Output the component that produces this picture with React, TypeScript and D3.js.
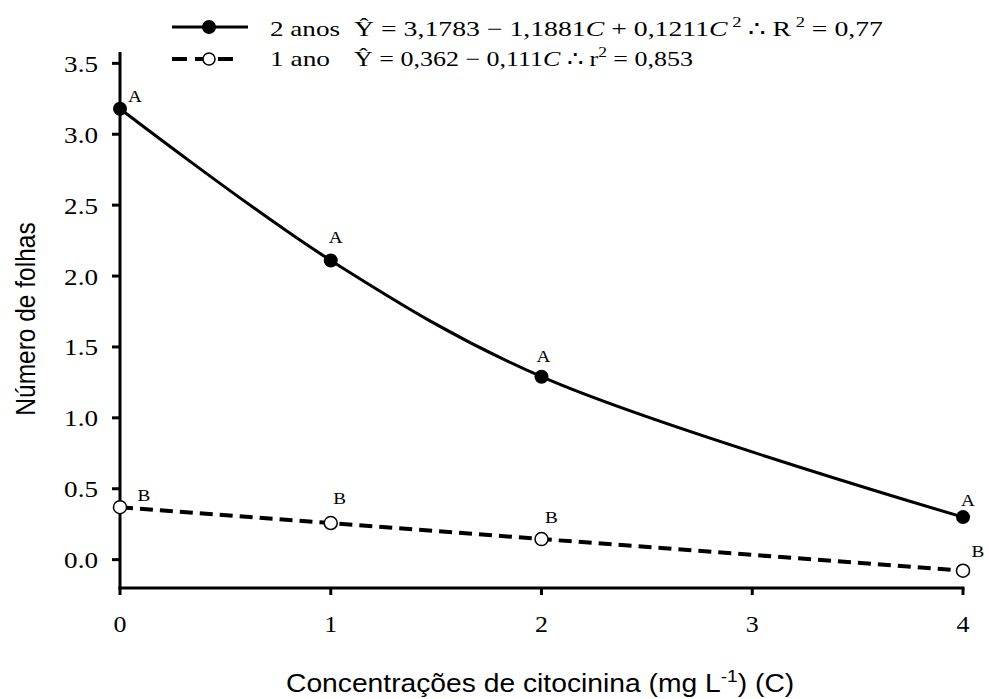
import * as d3 from "d3";
import React from "react";

// concentration levels (mg L-1)
const concentrations = [0, 1, 2, 4];
// número de folhas
const folhas2anos = [3.18, 2.11, 1.29, 0.3];
const folhas1ano = [0.37, 0.258, 0.145, -0.078];
// letters of the mean comparison test
const letras2anos = ["A", "A", "A", "A"];
const letras1ano = ["B", "B", "B", "B"];

const xTickValues = [0, 1, 2, 3, 4];
const yTickValues = [0, 0.5, 1, 1.5, 2, 2.5, 3, 3.5];

// manual nudges of the letters next to each point (px)
const nudgeA = [[15, -7], [5, -17], [2, -15], [5, -11]];
const nudgeB = [[24, -6], [9, -19], [10, -16], [15, -14]];

const W = 989;
const H = 699;
const SERIF = "Liberation Serif, Times New Roman, serif";
const SANS = "Liberation Sans, Arial, sans-serif";
const SX = 1.13; // the figure is stretched horizontally

const x = d3.scaleLinear().domain([0, 4]).range([120, 963]);
const y = d3.scaleLinear().domain([-0.2, 3.58]).range([588, 52]);
const fmt = d3.format(".1f");

type Pt = [number, number];

const STxt = (p: {
  x: number;
  y: number;
  size: number;
  family?: string;
  anchor?: string;
  sx?: number;
  children: React.ReactNode;
  textLength?: number;
}) => (
  <text
    transform={`translate(${p.x},${p.y}) scale(${p.sx ?? SX},1)`}
    style={{ fontFamily: p.family ?? SERIF }}
    fontSize={p.size}
    textAnchor={p.anchor ?? "start"}
    fill="#000"
    textLength={p.textLength}
    lengthAdjust={p.textLength ? "spacingAndGlyphs" : undefined}
  >
    {p.children}
  </text>
);

export default function App() {
  const pts2: Pt[] = concentrations.map((c, i) => [c, folhas2anos[i]]);
  const pts1: Pt[] = concentrations.map((c, i) => [c, folhas1ano[i]]);

  const curve2 = d3
    .line<Pt>()
    .x((d) => x(d[0]))
    .y((d) => y(d[1]))
    .curve(d3.curveCatmullRom.alpha(0.5));
  const line1 = d3
    .line<Pt>()
    .x((d) => x(d[0]))
    .y((d) => y(d[1]));

  const sup = (t: string) => (
    <tspan fontSize={14} dy={-9}>
      {t}
    </tspan>
  );

  return (
    <svg
      width={W}
      height={H}
      style={{ position: "absolute", left: 0, top: 0, background: "#fff" }}
    >
      <rect width={W} height={H} fill="#fff" />

      {/* axes */}
      <line x1={x(0)} x2={x(0)} y1={y(3.58)} y2={y(-0.2) + 1.5} stroke="#000" strokeWidth={3} />
      <line x1={x(0) - 1.5} x2={x(4) + 1.5} y1={y(-0.2)} y2={y(-0.2)} stroke="#000" strokeWidth={3} />
      {yTickValues.map((v) => (
        <g key={"y" + v}>
          <line x1={x(0) - 8} x2={x(0)} y1={y(v)} y2={y(v)} stroke="#000" strokeWidth={3} />
          <STxt x={98} y={y(v) + 8.5} size={24} anchor="end">
            {fmt(v)}
          </STxt>
        </g>
      ))}
      {xTickValues.map((v) => (
        <g key={"x" + v}>
          <line x1={x(v)} x2={x(v)} y1={y(-0.2)} y2={y(-0.2) + 7} stroke="#000" strokeWidth={3} />
          <STxt x={x(v)} y={632} size={23} anchor="middle">
            {v}
          </STxt>
        </g>
      ))}

      {/* axis titles */}
      <text
        transform={`translate(35,319) scale(${SX},1) rotate(-90)`}
        style={{ fontFamily: SANS }}
        fontSize={24.5}
        textAnchor="middle"
      >
        Número de folhas
      </text>
      <STxt x={286} y={692} size={25} family={SANS}>
        Concentrações de citocinina (mg L
        <tspan fontSize={17} dy={-10}>-1</tspan>
        <tspan dy={10}>) (C)</tspan>
      </STxt>

      {/* series */}
      <path d={curve2(pts2) ?? ""} fill="none" stroke="#000" strokeWidth={3} />
      <path
        d={line1(pts1) ?? ""}
        fill="none"
        stroke="#000"
        strokeWidth={4}
        strokeDasharray="13,7"
      />
      {pts2.map((d, i) => (
        <g key={"a" + i}>
          <circle cx={x(d[0])} cy={y(d[1])} r={7} fill="#000" />
          <STxt x={x(d[0]) + nudgeA[i][0]} y={y(d[1]) + nudgeA[i][1]} size={17} anchor="middle">
            {letras2anos[i]}
          </STxt>
        </g>
      ))}
      {pts1.map((d, i) => (
        <g key={"b" + i}>
          <circle cx={x(d[0])} cy={y(d[1])} r={6.5} fill="#fff" stroke="#000" strokeWidth={1.5} />
          <STxt x={x(d[0]) + nudgeB[i][0]} y={y(d[1]) + nudgeB[i][1]} size={17} anchor="middle">
            {letras1ano[i]}
          </STxt>
        </g>
      ))}

      {/* legend */}
      <line x1={172} x2={248} y1={27} y2={27} stroke="#000" strokeWidth={3} />
      <circle cx={209} cy={27} r={7} fill="#000" />
      <line x1={172} x2={240} y1={59} y2={59} stroke="#000" strokeWidth={4} strokeDasharray="15,8" />
      <circle cx={209} cy={59} r={6} fill="#fff" stroke="#000" strokeWidth={1.5} />

      <STxt x={270} y={36} size={21} sx={1} textLength={70}>
        2 anos
      </STxt>
      <STxt x={354} y={36} size={21} sx={1} textLength={529}>
        Ŷ = 3,1783 − 1,1881<tspan fontStyle="italic">C</tspan> + 0,1211
        <tspan fontStyle="italic">C</tspan>
        {sup(" 2")}
        <tspan dy={9}> ∴ R</tspan>
        {sup(" 2")}
        <tspan dy={9}> = 0,77</tspan>
      </STxt>
      <STxt x={270} y={66} size={21} sx={1} textLength={60}>
        1 ano
      </STxt>
      <STxt x={354} y={66} size={21} sx={1} textLength={339}>
        Ŷ = 0,362 − 0,111<tspan fontStyle="italic">C</tspan> ∴ r
        {sup("2")}
        <tspan dy={9}> = 0,853</tspan>
      </STxt>
    </svg>
  );
}
